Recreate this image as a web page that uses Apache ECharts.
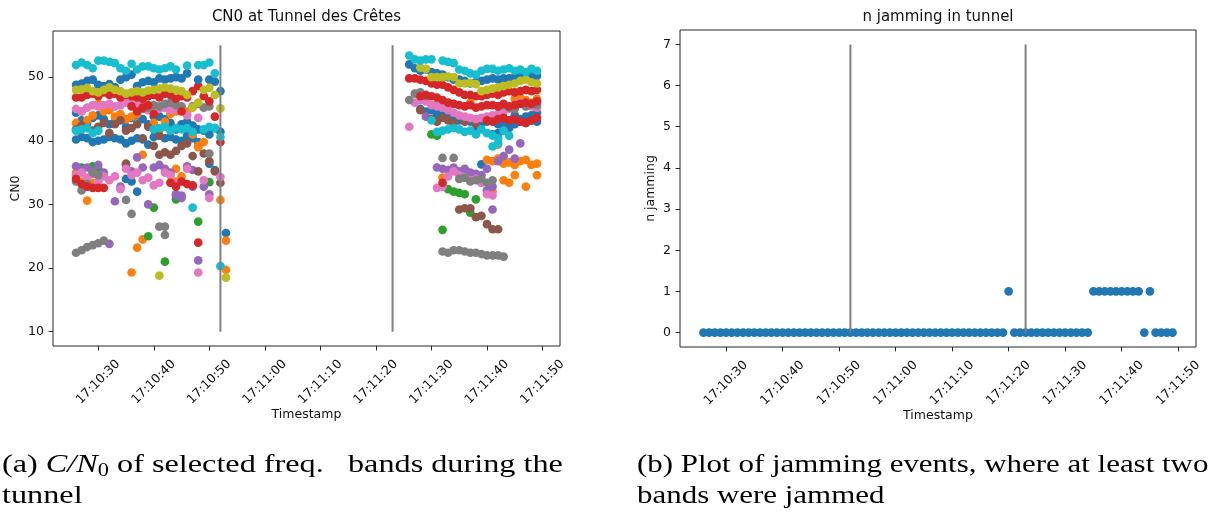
<!DOCTYPE html>
<html>
<head>
<meta charset="utf-8">
<script src="https://cdn.jsdelivr.net/npm/echarts@6/dist/echarts.min.js"></script>
<style>
  html, body { margin: 0; background: #fff; }
  #main { width: 1211px; height: 515px; }
</style>
</head>
<body>
<div id="main"></div>
<script>
const _ = null;

// seconds after 17:10:00 — first 28 before the tunnel, last 24 after it
const cn0Secs = [26,27,28,29,30,31,32,33,34,35,36,37,38,39,40,41,42,43,44,45,46,47,48,49,50,51,52,53,
  86,87,88,89,90,91,92,93,94,95,96,97,98,99,100,101,102,103,104,105,106,107,108,109];

// CN0 per band (one value per entry of cn0Secs, null = no fix)
const blueHi = [48.8,49.0,49.4,49.6,48.8,48.6,48.9,48.4,49.6,50.0,50.4,48.6,49.2,49.4,49.2,49.8,49.6,49.8,50.0,49.8,50.6,_,49.6,_,49.6,49.3,47.8,_,
  52.0,51.4,51.0,51.2,50.8,50.6,50.4,50.0,49.6,49.6,49.4,49.0,49.2,49.4,49.6,49.8,49.6,49.8,49.8,50.0,50.4,50.2,50.0,50.2];
const blueMid = [44.4,43.2,42.8,43.6,44.0,43.4,42.6,43.0,43.8,42.2,43.6,44.0,43.4,42.6,43.8,43.8,43.4,42.8,41.8,42.6,43.0,42.4,41.8,41.6,41.0,42.0,41.4,25.5,
  _,_,45.0,44.6,44.8,44.2,44.0,43.8,43.4,43.2,43.4,43.0,43.2,42.8,43.0,43.4,42.6,42.8,43.2,44.0,43.4,43.8,44.0,44.4];
const blueLo = [40.2,40.6,40.4,39.8,40.0,40.2,40.6,40.4,40.2,39.6,40.0,40.4,40.2,39.4,40.6,40.8,40.4,40.6,40.2,40.0,40.8,40.4,39.8,_,36.4,35.4,_,_,
  _,_,_,_,_,_,_,_,_,_,_,_,41.4,36.3,_,41.0,41.2,41.8,42.0,42.6,43.0,42.8,43.2,43.0];
const bluePts = [_,_,_,_,_,_,_,_,_,34.0,33.6,32.0,_,_,_,_,_,_,_,_,_,_,_,_,_,_,_,_,
  _,_,_,_,_,_,_,_,_,_,_,_,_,_,_,_,_,_,_,_,_,_,_,_];
const orangeMid = [42.8,44.6,43.2,44.0,45.8,44.6,44.8,43.8,44.2,43.4,43.8,44.2,45.6,45.4,42.8,41.6,43.0,44.2,44.6,44.8,44.6,41.0,39.2,39.8,_,_,30.7,24.3,
  _,_,_,_,_,45.8,_,_,_,_,_,46.0,_,_,_,_,_,_,_,46.6,46.8,46.4,46.0,46.6];
const orangeLo = [35.0,33.6,30.6,33.4,_,_,_,_,_,_,19.3,23.2,24.5,_,_,_,_,33.4,33.6,34.4,_,_,_,_,_,_,_,19.7,
  _,_,_,_,_,_,34.2,_,_,_,_,_,_,_,37.0,36.8,37.2,36.4,36.6,36.2,36.8,37.0,36.2,36.4];
const orangePts = [_,_,_,_,_,_,_,_,_,_,_,_,37.8,_,_,_,_,_,35.6,_,_,_,39.0,_,_,_,_,_,
  _,_,_,_,_,_,_,_,_,_,_,_,_,_,_,32.0,39.4,33.8,33.4,34.6,_,32.8,_,34.6];
const greenA = [_,35.8,_,36.0,35.6,_,_,_,_,_,_,_,_,25.0,29.5,_,21.0,_,30.8,_,_,_,27.3,_,33.5,42.0,_,_,
  _,_,_,_,41.0,40.8,26.0,32.4,32.0,31.8,31.6,28.7,30.8,_,_,_,_,_,_,_,_,_,_,_];
const redHi = [46.8,46.8,47.2,47.4,47.0,47.6,47.2,47.4,46.8,47.2,47.0,46.8,46.6,47.0,47.2,46.8,47.4,47.2,46.6,47.0,46.8,47.8,48.6,47.0,46.2,43.8,39.8,_,
  49.8,49.8,49.6,49.4,49.0,48.8,48.8,48.4,48.0,47.6,47.2,47.2,47.0,47.0,47.2,47.4,47.2,47.6,47.8,47.6,47.8,48.0,47.8,48.0];
const redMid = [_,_,_,_,_,_,_,_,_,_,45.4,44.6,45.2,45.6,44.2,_,_,_,_,44.6,_,_,_,_,_,_,_,_,
  _,_,47.0,47.2,47.0,46.8,46.4,46.0,45.8,45.6,45.4,45.6,45.2,45.4,45.6,45.6,45.4,45.8,45.4,45.6,45.8,46.0,45.8,46.2];
const redLo = [34.0,33.2,32.8,32.6,32.6,32.6,_,_,_,_,_,_,_,_,_,_,_,33.4,32.8,33.6,33.2,33.0,24.0,_,_,_,_,_,
  _,_,_,_,_,_,33.4,_,_,_,_,_,_,_,43.2,43.0,43.4,43.6,43.2,43.4,43.0,42.8,43.2,43.6];
const purpleA = [36.0,35.4,35.8,35.2,36.2,35.0,23.8,30.5,32.8,36.2,35.2,37.4,35.8,30.0,35.8,36.2,35.6,35.0,31.4,31.0,36.0,35.4,21.2,32.8,31.6,_,_,_,
  _,_,_,43.8,_,35.8,35.6,35.4,35.8,35.2,35.6,35.0,34.8,34.6,35.6,32.8,36.8,37.6,38.6,37.2,39.6,_,_,_];
const purpleLo = [_,_,_,_,_,_,_,_,_,_,_,_,_,_,_,_,_,_,31.6,31.4,_,32.8,_,_,_,_,_,_,
  _,_,_,_,_,_,_,_,_,_,_,_,_,33.4,32.2,29.2,_,_,_,_,_,_,_,_];
const brownA = [41.8,42.4,42.0,41.6,42.2,42.8,41.2,42.6,43.2,41.6,42.0,42.6,40.4,42.2,39.2,40.8,38.2,37.8,38.4,39.2,39.6,37.6,35.2,38.0,36.8,_,33.4,_,
  _,_,44.8,_,43.4,43.0,43.6,43.2,42.8,_,43.0,_,42.6,_,_,_,_,_,_,_,_,_,_,_];
const brownLo = [_,_,_,_,_,_,_,_,_,36.4,_,_,_,_,_,37.8,_,_,_,_,_,_,_,_,_,35.2,_,_,
  _,_,_,_,_,_,_,_,_,29.2,29.4,29.4,28.0,28.2,26.9,26.1,26.1,_,_,_,_,_,_,_];
const pinkMid = [45.0,44.6,45.2,45.6,45.4,45.6,45.8,45.4,45.6,46.0,45.8,45.6,45.2,44.8,45.4,45.0,45.2,44.8,45.0,_,44.0,_,43.6,_,_,_,_,_,
  42.2,46.0,46.4,46.2,45.6,45.4,45.2,44.8,44.4,44.0,43.8,43.6,43.4,43.6,43.8,44.0,44.2,44.6,45.0,45.6,46.0,45.8,45.4,45.2];
const pinkLo = [34.6,35.0,34.2,34.8,33.6,34.4,33.8,34.4,32.4,35.6,34.6,35.0,33.8,34.2,33.0,33.4,35.0,34.6,33.2,33.6,35.6,_,19.3,33.8,31.0,_,34.3,_,
  _,_,_,_,_,32.6,32.8,34.4,35.2,34.6,34.2,33.8,34.0,33.4,31.6,31.4,_,_,_,_,_,_,_,_];
const grayMid = [_,_,_,_,_,_,_,_,_,_,_,_,45.0,45.2,45.6,45.4,45.8,46.0,45.6,45.4,_,45.4,45.8,45.2,45.4,_,_,_,
  46.4,47.4,47.6,47.0,_,_,_,_,_,_,_,_,_,_,_,_,45.4,45.6,45.2,45.0,_,45.4,45.8,45.6];
const grayLo = [22.4,22.8,23.3,23.6,23.9,24.3,_,_,_,30.7,28.5,_,_,_,_,26.5,26.5,_,_,_,_,_,_,_,38.0,_,_,_,
  _,_,_,_,_,_,22.6,22.4,22.8,22.8,22.6,22.4,22.4,22.2,22.0,22.0,22.0,21.8,_,_,_,_,_,_];
const grayB = [33.6,32.2,33.2,35.0,34.6,_,_,_,_,_,_,_,_,_,_,_,25.2,_,_,_,_,_,_,_,_,_,_,_,
  _,_,_,_,_,_,37.3,_,37.3,34.0,34.2,33.6,33.8,34.0,33.4,33.8,_,_,_,_,_,_,_,_];
const olive = [48.0,48.1,48.3,47.8,47.6,48.0,48.4,48.0,47.8,47.4,47.6,47.8,47.6,47.9,48.0,48.2,48.4,48.2,48.0,47.8,47.2,45.2,46.0,48.0,48.3,47.2,45.1,_,
  _,_,51.5,51.3,50.0,50.0,50.0,50.1,50.0,49.0,49.0,49.1,48.9,47.8,48.0,48.2,48.4,48.6,48.8,49.0,49.4,49.6,49.2,49.0];
const olivePts = [_,_,_,_,_,_,_,_,_,_,_,_,_,_,_,18.8,_,_,_,_,_,_,_,_,_,_,_,18.5,
  _,_,_,_,_,_,_,_,_,_,_,_,_,_,_,_,_,_,_,_,_,_,_,_];
const cyanHi = [51.9,52.3,51.9,51.4,52.6,52.6,52.4,52.2,51.4,51.0,52.1,51.2,51.7,51.7,51.4,51.2,51.4,51.7,51.2,_,51.8,_,51.9,51.9,52.3,50.6,_,_,
  53.4,52.8,52.6,52.8,52.8,_,52.6,52.4,52.2,51.2,51.0,50.6,50.4,51.0,51.3,51.3,51.0,51.2,51.4,51.0,51.2,50.8,51.3,51.0];
const cyanLo = [41.6,41.8,42.0,41.2,41.6,_,_,_,_,_,_,_,_,_,41.8,42.0,42.2,41.6,42.0,41.8,42.0,41.4,_,41.8,42.2,42.0,40.6,_,
  _,_,_,_,43.2,41.4,41.6,41.8,42.0,41.8,41.4,41.6,41.0,41.8,41.2,40.8,40.4,41.6,40.8,_,_,_,_,_];
const cyanPts = [_,_,_,_,_,_,_,_,_,_,_,_,_,_,_,_,_,_,_,_,_,29.5,_,_,_,_,20.3,_,
  _,_,_,_,_,_,_,_,_,_,_,_,_,_,_,39.1,39.6,_,_,_,_,_,_,_];

// jamming counter, one value per second 17:10:26 .. 17:11:49
const jamSecs = [26,27,28,29,30,31,32,33,34,35,36,37,38,39,40,41,42,43,44,45,46,47,48,49,50,51,52,53,54,55,
  56,57,58,59,60,61,62,63,64,65,66,67,68,69,70,71,72,73,74,75,76,77,78,79,80,81,82,83,84,85,
  86,87,88,89,90,91,92,93,94,95,96,97,98,99,100,101,102,103,104,105,106,107,108,109];
const jamCount = [0,0,0,0,0,0,0,0,0,0,0,0,0,0,0,0,0,0,0,0,0,0,0,0,0,0,0,0,0,0,
  0,0,0,0,0,0,0,0,0,0,0,0,0,0,0,0,0,0,0,0,0,0,0,0,1,0,0,0,0,0,
  0,0,0,0,0,0,0,0,0,1,1,1,1,1,1,1,1,1,0,1,0,0,0,0];

// tunnel entry / exit marks
const tunnelSecs = [52, 83];
const timeTicks = [30, 40, 50, 60, 70, 80, 90, 100, 110];
const cn0Ticks = [10, 20, 30, 40, 50];
const jamTicks = [0, 1, 2, 3, 4, 5, 6, 7];

const tab10 = ['#1f77b4', '#ff7f0e', '#2ca02c', '#d62728', '#9467bd', '#8c564b', '#e377c2', '#7f7f7f', '#bcbd22', '#17becf'];
const cn0Bands = [
  [blueLo, 0], [blueMid, 0], [bluePts, 0], [orangeMid, 1], [orangeLo, 1], [orangePts, 1],
  [greenA, 2], [purpleA, 4], [purpleLo, 4], [brownA, 5], [brownLo, 5], [pinkMid, 6], [pinkLo, 6],
  [grayMid, 7], [grayLo, 7], [grayB, 7], [redLo, 3], [redMid, 3], [redHi, 3], [blueHi, 0],
  [olive, 8], [cyanLo, 9], [cyanHi, 9], [cyanPts, 9], [olivePts, 8]
];

const FONT = 'DejaVu Sans';
const SERIF = 'Liberation Serif';
const fmtTime = (s) => {
  const m = 10 + Math.floor(s / 60);
  const sec = s % 60;
  return '17:' + String(m).padStart(2, '0') + ':' + String(sec).padStart(2, '0');
};

const timeAxis = (gridIndex) => ({
  type: 'value', gridIndex: gridIndex, min: 21.85, max: 113.15,
  name: 'Timestamp', nameLocation: 'middle', nameGap: 62, nameMoveOverlap: false,
  nameTextStyle: { fontFamily: FONT, fontSize: 12.5, color: '#111' },
  axisLine: { show: false, onZero: false },
  splitLine: { show: false },
  axisTick: { show: true, length: 4.4, customValues: timeTicks, lineStyle: { color: '#262626', width: 1 } },
  axisLabel: {
    customValues: timeTicks, formatter: fmtTime, rotate: 45, align: 'center', verticalAlign: 'middle',
    margin: 36, fontFamily: FONT, fontSize: 12.5, color: '#111'
  }
});

const valueAxis = (gridIndex, min, max, ticks, name, gap) => ({
  type: 'value', gridIndex: gridIndex, min: min, max: max,
  name: name, nameLocation: 'middle', nameGap: gap, nameMoveOverlap: false,
  nameTextStyle: { fontFamily: FONT, fontSize: 12.5, color: '#111' },
  axisLine: { show: false, onZero: false },
  splitLine: { show: false },
  axisTick: { show: true, length: 4.4, customValues: ticks, lineStyle: { color: '#262626', width: 1 } },
  axisLabel: { customValues: ticks, margin: 9, fontFamily: FONT, fontSize: 12.5, color: '#111' }
});

const tunnelLines = (axisIdx, lo, hi) => tunnelSecs.map(s => ({
  type: 'line', xAxisIndex: axisIdx, yAxisIndex: axisIdx, z: 5,
  symbol: 'none', silent: true,
  lineStyle: { color: '#808080', width: 2 },
  data: [[s, lo], [s, hi]]
}));

const cn0Series = cn0Bands.map(([vals, c]) => ({
  type: 'scatter', xAxisIndex: 0, yAxisIndex: 0, symbolSize: 8.7,
  itemStyle: { color: tab10[c], opacity: 1 },
  data: cn0Secs.map((s, i) => [s, vals[i]]).filter(p => p[1] !== null)
}));

const jamSeries = {
  type: 'scatter', xAxisIndex: 1, yAxisIndex: 1, symbolSize: 8.7,
  itemStyle: { color: tab10[0], opacity: 1 },
  data: jamSecs.map((s, i) => [s, jamCount[i]])
};

const gridBox = { show: true, borderColor: '#262626', borderWidth: 1, backgroundColor: 'transparent', outerBoundsMode: 'none' };

const captionStyle = (text) => ({
  text: text, fontFamily: SERIF, fontSize: 26, lineHeight: 31, fill: '#000', verticalAlign: 'middle',
  rich: {
    it: { fontFamily: SERIF, fontSize: 26, lineHeight: 31, fontStyle: 'italic' },
    sub: { fontFamily: SERIF, fontSize: 18, lineHeight: 18, verticalAlign: 'bottom' }
  }
});

const chart = echarts.init(document.getElementById('main'), null, { renderer: 'canvas' });
chart.setOption({
  animation: false,
  backgroundColor: '#fff',
  grid: [
    Object.assign({ left: 53, top: 31, width: 507, height: 315 }, gridBox),
    Object.assign({ left: 680, top: 30, width: 516, height: 317 }, gridBox)
  ],
  xAxis: [timeAxis(0), timeAxis(1)],
  yAxis: [
    valueAxis(0, 7.75, 57.25, cn0Ticks, 'CN0', 31),
    valueAxis(1, -0.35, 7.35, jamTicks, 'n jamming', 23)
  ],
  series: cn0Series.concat([jamSeries], tunnelLines(0, 10, 55), tunnelLines(1, 0, 7)),
  graphic: [
    { type: 'text', x: 306.5, y: 17, style: { text: 'CN0 at Tunnel des Crêtes', fontFamily: FONT, fontSize: 15, fill: '#111', align: 'center', verticalAlign: 'middle' } },
    { type: 'text', x: 938, y: 17, style: { text: 'n jamming in tunnel', fontFamily: FONT, fontSize: 15, fill: '#111', align: 'center', verticalAlign: 'middle' } },
    { type: 'text', x: 2, y: 465, scaleX: 1.24, style: captionStyle('(a) {it|C/N}{sub|0} of selected freq.   bands during the') },
    { type: 'text', x: 2, y: 496, scaleX: 1.24, style: captionStyle('tunnel') },
    { type: 'text', x: 637, y: 465, scaleX: 1.19, style: captionStyle('(b) Plot of jamming events, where at least two') },
    { type: 'text', x: 637, y: 496, scaleX: 1.19, style: captionStyle('bands were jammed') }
  ]
});
</script>
</body>
</html>
